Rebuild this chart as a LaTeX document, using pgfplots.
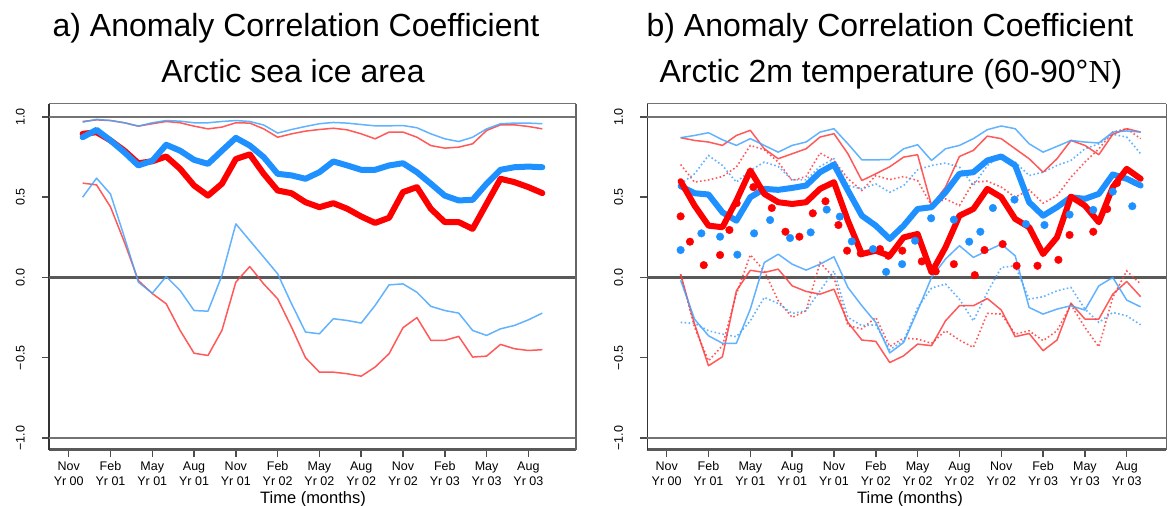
\documentclass[border=0pt]{standalone}
\usepackage{fontspec}
\setmainfont{Liberation Sans}
\newfontfamily\serifN{Liberation Serif}
\usepackage{pgfplots}
\usepackage{pgfplotstable}
\pgfplotsset{compat=1.18}
\definecolor{rred}{RGB}{255,0,0}
\definecolor{rblue}{RGB}{30,144,255}
\definecolor{tblue}{RGB}{70,165,255}
\definecolor{tred}{RGB}{255,60,60}

\pgfplotstableread{
m bt rt bu ru bl rl
1 0.874 0.895 0.968 0.972 0.500 0.588
2 0.920 0.905 0.985 0.982 0.619 0.577
3 0.854 0.854 0.978 0.978 0.520 0.440
4 0.780 0.790 0.964 0.964 0.251 0.220
5 0.698 0.712 0.943 0.943 -0.029 -0.019
6 0.727 0.724 0.964 0.958 -0.098 -0.100
7 0.827 0.754 0.978 0.972 0.006 -0.164
8 0.790 0.677 0.974 0.964 -0.081 -0.330
9 0.733 0.573 0.964 0.943 -0.206 -0.472
10 0.708 0.510 0.964 0.926 -0.210 -0.486
11 0.790 0.584 0.972 0.937 0.012 -0.330
12 0.870 0.738 0.978 0.964 0.334 -0.029
13 0.822 0.767 0.972 0.962 0.230 0.068
14 0.750 0.646 0.950 0.926 0.127 -0.040
15 0.646 0.542 0.900 0.874 0.023 -0.133
16 0.636 0.525 0.922 0.895 -0.164 -0.310
17 0.615 0.469 0.941 0.912 -0.340 -0.500
18 0.656 0.438 0.958 0.922 -0.351 -0.590
19 0.723 0.463 0.966 0.930 -0.257 -0.590
20 0.698 0.428 0.962 0.920 -0.268 -0.600
21 0.671 0.380 0.953 0.895 -0.284 -0.615
22 0.671 0.340 0.945 0.864 -0.174 -0.558
23 0.698 0.372 0.945 0.906 -0.046 -0.475
24 0.712 0.532 0.947 0.906 -0.040 -0.313
25 0.656 0.563 0.933 0.874 -0.092 -0.250
26 0.584 0.428 0.895 0.822 -0.180 -0.392
27 0.510 0.345 0.864 0.806 -0.206 -0.392
28 0.480 0.345 0.847 0.812 -0.222 -0.367
29 0.484 0.303 0.874 0.833 -0.330 -0.496
30 0.584 0.459 0.926 0.916 -0.361 -0.490
31 0.671 0.615 0.958 0.951 -0.320 -0.417
32 0.687 0.594 0.962 0.951 -0.299 -0.444
33 0.691 0.563 0.962 0.941 -0.264 -0.455
34 0.687 0.526 0.958 0.926 -0.222 -0.450
}\seaice

\pgfplotstableread{
m bt rt bu ru bdu rdu bl rl bdl rdl
1 .569 .600 .871 .871 .583 .704 -.017 .020 -.280 .020
2 .525 .448 .885 .854 .646 .594 -.260 -.290 -.286 -.311
3 .517 .323 .902 .844 .760 .608 -.363 -.550 -.332 -.519
4 .406 .313 .858 .823 .698 .629 -.410 -.494 -.353 -.425
5 .354 .479 .823 .885 .594 .688 -.410 -.083 -.369 -.104
6 .500 .667 .865 .917 .667 .823 -.197 .045 -.270 .141
7 .552 .521 .823 .802 .719 .796 .093 .031 -.124 .041
8 .546 .469 .781 .740 .692 .719 .145 .052 -.162 -.145
9 .558 .458 .823 .771 .608 .604 .083 -.052 -.224 -.249
10 .573 .469 .844 .802 .608 .629 .046 -.087 -.207 -.207
11 .656 .552 .906 .875 .692 .775 .083 -.104 -.083 .093
12 .704 .594 .927 .896 .740 .729 .129 -.073 .041 .000
13 .542 .354 .833 .771 .573 .615 -.062 -.280 -.249 -.300
14 .385 .146 .733 .604 .552 .542 -.176 -.390 -.300 -.320
15 .323 .167 .733 .646 .583 .635 -.280 -.398 -.295 -.249
16 .240 .135 .735 .690 .531 .610 -.470 -.530 -.450 -.430
17 .323 .250 .802 .750 .573 .629 -.405 -.488 -.394 -.378
18 .427 .271 .827 .765 .671 .604 -.207 -.415 -.187 -.384
19 .438 .031 .729 .448 .698 .448 .000 -.425 -.066 -.410
20 .531 .188 .802 .563 .713 .490 .115 -.270 -.041 -.332
21 .646 .385 .823 .754 .688 .448 .198 -.176 -.135 -.390
22 .656 .427 .865 .792 .573 .594 .125 -.176 -.270 -.436
23 .729 .552 .921 .881 .698 .600 .167 -.131 -.093 -.224
24 .754 .500 .944 .865 .760 .563 .208 -.203 .062 -.228
25 .698 .365 .927 .802 .719 .500 .135 -.369 .073 -.353
26 .469 .313 .833 .740 .635 .546 -.187 -.349 -.135 -.332
27 .385 .146 .781 .656 .656 .463 -.228 -.456 -.120 -.394
28 .438 .250 .817 .740 .698 .510 -.197 -.390 -.083 -.332
29 .500 .504 .854 .854 .729 .625 -.176 -.160 -.062 -.170
30 .490 .448 .844 .823 .802 .719 -.203 -.259 -.197 -.311
31 .521 .344 .838 .765 .833 .802 -.052 -.259 -.280 -.432
32 .642 .563 .906 .892 .892 .906 .000 -.104 -.218 -.124
33 .615 .677 .913 .927 .875 .927 -.141 -.025 -.239 .041
34 .573 .615 .906 .906 .771 .865 -.183 -.120 -.295 -.041
}\tas

\pgfplotstableread{
m v
1.00 .381
1.67 .223
2.66 .077
3.83 .140
4.50 .296
5.02 .463
6.22 .563
7.54 .433
8.52 .285
9.52 .254
10.48 .400
11.39 .475
12.32 .327
12.94 .167
13.92 .150
15.30 .177
15.90 .135
16.90 .167
18.30 .100
19.30 .038
20.60 .083
22.10 .015
22.80 .171
24.10 .208
25.10 .073
26.60 .073
28.10 .110
28.90 .265
30.60 .285
31.60 .427
32.30 .588
}\reddots

\pgfplotstableread{
m v
1.00 .171
2.49 .275
3.83 .254
5.07 .142
6.27 .275
7.42 .358
8.85 .246
10.33 .281
11.48 .423
12.42 .379
13.28 .225
14.80 .177
15.74 .035
16.89 .083
17.82 .229
18.97 .369
20.60 .360
21.70 .223
22.50 .285
23.40 .433
24.95 .485
25.77 .333
27.10 .327
28.90 .392
30.60 .421
32.00 .535
33.40 .444
}\bluedots

\pgfplotsset{
  accaxis/.style={
    scale only axis, height=346pt, anchor=south west,
    ymin=-1.075, ymax=1.081,
    axis x line*=bottom, axis y line*=left,
    x axis line style={line width=3pt, color=black!65},
    y axis line style={line width=1.5pt, color=black!80},
    xtick={0,3,...,33},
    xticklabels={{Nov\\Yr 00},{Feb\\Yr 01},{May\\Yr 01},{Aug\\Yr 01},{Nov\\Yr 01},{Feb\\Yr 02},{May\\Yr 02},{Aug\\Yr 02},{Nov\\Yr 02},{Feb\\Yr 03},{May\\Yr 03},{Aug\\Yr 03}},
    xticklabel style={align=center, font=\fontsize{12.5}{15.3}\selectfont, text=black, yshift=-1pt},
    ytick={-1,-0.5,0,0.5,1},
    yticklabels={−1.0,−0.5,0.0,0.5,1.0},
    yticklabel style={rotate=90, anchor=south, inner sep=0pt, font=\fontsize{12.5}{15}\selectfont, text=black},
    yticklabel shift=17pt,
    tick align=outside, major tick length=7pt,
    tick style={line width=1.5pt, color=black!70},
    clip=false,
  },
  thick line/.style={line width=6pt, line join=round, line cap=round},
  thin line/.style={line width=1.5pt, line join=round, opacity=0.85},
  dot line/.style={line width=1.6pt, opacity=0.85, dash pattern=on 1.6pt off 2.4pt},
}

\newcommand{\reflines}[2]{%
  \draw[black!55, line width=2pt] (axis cs:#1,1) -- (axis cs:#2,1);
  \draw[black!65, line width=2.2pt] (axis cs:#1,0) -- (axis cs:#2,0);
  \draw[black!55, line width=1.2pt] (axis cs:#1,-1) -- (axis cs:#2,-1);
  \draw[black!55, line width=1pt] (rel axis cs:0,1) -- (rel axis cs:1,1);
  \draw[black!60, line width=1.5pt] (rel axis cs:1,1) -- (rel axis cs:1,0);
}

\begin{document}
\begin{tikzpicture}[x=1pt,y=1pt]
\useasboundingbox (0,0) rectangle (1168,506);

% ---------- panel a ----------
\begin{axis}[accaxis, at={(49pt,56pt)}, width=527pt, xmin=-1.414, xmax=36.42]
\reflines{-1.414}{36.42}
\addplot[thin line, tred] table[x=m,y=ru] {\seaice};
\addplot[thin line, tred] table[x=m,y=rl] {\seaice};
\addplot[thin line, tblue] table[x=m,y=bu] {\seaice};
\addplot[thin line, tblue] table[x=m,y=bl] {\seaice};
\addplot[thick line, rred] table[x=m,y=rt] {\seaice};
\addplot[thick line, rblue] table[x=m,y=bt] {\seaice};
\end{axis}

% ---------- panel b ----------
\begin{axis}[accaxis, at={(647.3pt,56pt)}, width=519pt, xmin=-1.39, xmax=35.84]
\reflines{-1.39}{35.84}
\addplot[dot line, tred] table[x=m,y=rdu] {\tas};
\addplot[dot line, tred] table[x=m,y=rdl] {\tas};
\addplot[dot line, tblue] table[x=m,y=bdu] {\tas};
\addplot[dot line, tblue] table[x=m,y=bdl] {\tas};
\addplot[thin line, tred] table[x=m,y=ru] {\tas};
\addplot[thin line, tred] table[x=m,y=rl] {\tas};
\addplot[thin line, tblue] table[x=m,y=bu] {\tas};
\addplot[thin line, tblue] table[x=m,y=bl] {\tas};
\addplot[only marks, mark=*, mark size=3.8pt, rred, mark options={draw=none, fill=rred}] table[x=m,y=v] {\reddots};
\addplot[only marks, mark=*, mark size=3.8pt, rblue, mark options={draw=none, fill=rblue}] table[x=m,y=v] {\bluedots};
\addplot[thick line, rblue] table[x=m,y=bt] {\tas};
\addplot[thick line, rred] table[x=m,y=rt] {\tas};
\end{axis}

% ---------- titles ----------
\node[anchor=base, font=\fontsize{32}{36}\selectfont] at (296,469) {a) Anomaly Correlation Coefficient};
\node[anchor=base, font=\fontsize{32}{36}\selectfont] at (293,423) {Arctic sea ice area};
\node[anchor=base, font=\fontsize{32}{36}\selectfont] at (890,469) {b) Anomaly Correlation Coefficient};
\node[anchor=base, font=\fontsize{32}{36}\selectfont] at (891,423) {Arctic 2m temperature (60-90°{\serifN N})};
% ---------- x labels ----------
\node[anchor=base, font=\fontsize{16.5}{18}\selectfont] at (313,2) {Time (months)};
\node[anchor=base, font=\fontsize{16.5}{18}\selectfont] at (910,2) {Time (months)};
\end{tikzpicture}
\end{document}
